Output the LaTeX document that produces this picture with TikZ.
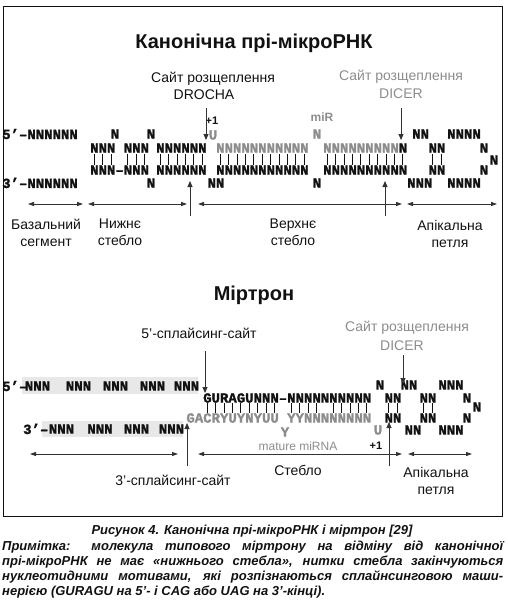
\documentclass[tikz,border=0pt]{standalone}
\usepackage{fontspec}
\setmainfont{Liberation Sans}
\newfontfamily\seqfont[BoldFeatures={FakeBold=1.6}]{Liberation Mono}
\usepackage{xcolor}
\usepackage{tikz}
\usetikzlibrary{calc,arrows.meta,positioning}
\definecolor{ink}{HTML}{111111}
\definecolor{arr}{HTML}{333333}
\definecolor{soft}{HTML}{8C8C8C}
\definecolor{band}{HTML}{E8E8E8}
\tikzset{
  seq/.style={font=\seqfont\bfseries\fontsize{14}{14}\selectfont, text=ink, inner sep=0pt},
  seqs/.style={seq, text=soft},
  lab/.style={font=\fontsize{14}{17}\selectfont, text=ink, inner sep=0pt, align=center},
  labs/.style={lab, text=soft},
  ttl/.style={font=\bfseries\fontsize{20}{22}\selectfont, text=ink, inner sep=0pt},
  plusone/.style={font=\bfseries\fontsize{11}{12}\selectfont, text=ink, inner sep=0pt},
  cutarr/.style={draw=arr, line width=0.9pt, -{Triangle[length=6pt,width=5pt]}},
  region/.style={draw=arr, line width=0.9pt, {Triangle[length=6pt,width=4pt]}-{Triangle[length=6pt,width=4pt]}},
  pairbar/.style={draw=ink, line width=0.7pt},
}
\begin{document}
\begin{tikzpicture}[x=1pt,y=-1pt]
\useasboundingbox (0,0) rectangle (508,607);
\draw[ink, line width=0.8pt] (3,6) rectangle (502,516);

% canonical pri-miRNA
\node[ttl] (ttlA) at (254,43) {Канонічна прі-мікроРНК};
\node[lab] (drsite) at (213,79) {Сайт розщеплення};
\node[lab] (drname) at (204,95) {DROCHA};
\node[labs] (dcsite) at (401,77) {Сайт розщеплення};
\node[labs] (dcname) at (401,94) {DICER};
\node[font=\bfseries\fontsize{12}{12}\selectfont, text=soft, inner sep=0pt] (mir) at (322,117) {miR};
\node[plusone] (p1a) at (212,121) {+1};

\node[seq, anchor=west] (c5) at (2,134) {5’–NNNNNN};
\node[seq] (c1a) at (115,134) {N};
\node[seq] (c1b) at (151,134) {N};
\node[seqs] (cU) at (213,135) {U};
\node[seqs] (c1c) at (317,134) {N};
\node[seq, anchor=west] (c1d) at (412,134) {NN};
\node[seq, anchor=west] (c1e) at (447,134) {NNNN};

\node[seq, anchor=west] (c2a) at (90,148) {NNN NNN};
\node[seq, anchor=west] (c2b) at (156,148) {NNNNNN};
\node[seqs, anchor=west] (c2c) at (216,148) {NNNNNNNNNNN};
\node[seq, anchor=west] (c2d) at (323,148) {\textcolor{soft}{NNNNNNNNN}N};
\node[seq] (c2e) at (437,148) {NN};
\node[seq] (c2f) at (484,148) {N};
\node[seq] (cm) at (494,160) {N};

\node[seq, anchor=west] (c3a) at (90,170) {NNN–NNN};
\node[seq, anchor=west] (c3b) at (156,170) {NNNNNN};
\node[seq, anchor=west] (c3c) at (216,170) {NNNNNNNNNNN};
\node[seq, anchor=west] (c3d) at (323,170) {NNNNNNNNNN};
\node[seq] (c3e) at (437,170) {NN};
\node[seq] (c3f) at (484,170) {N};

\node[seq, anchor=west] (c3) at (2,183) {3’–NNNNNN};
\node[seq] (c4a) at (151,183) {N};
\node[seq] (c4b) at (216,183) {NN};
\node[seq] (c4c) at (317,183) {N};
\node[seq, anchor=west] (c4d) at (407,183) {NNN};
\node[seq, anchor=west] (c4e) at (447,183) {NNNN};

\foreach \s/\n in {90/3, 123.6/3, 156/6, 216/11, 323/10, 428.6/2}
  \foreach \i in {1,...,\n}
    \draw[pairbar] ({\s+(\i-0.5)*8.4},154) -- ({\s+(\i-0.5)*8.4},165);

\coordinate (drt) at (206,108);
\coordinate (drh) at (206,140);
\coordinate (dct) at (401,108);
\coordinate (dch) at (401,140);
\coordinate (lst) at (190,216);
\coordinate (lsh) at (190,181);
\coordinate (ust) at (385,216);
\coordinate (ush) at (385,181);
\draw[cutarr] (drt) -- (drh);
\draw[cutarr] (dct) -- (dch);
\draw[cutarr] (lst) -- (lsh);
\draw[cutarr] (ust) -- (ush);

\coordinate (r1a) at (28,204);  \coordinate (r1b) at (83,204);
\coordinate (r2a) at (88,204);  \coordinate (r2b) at (187,204);
\coordinate (r3a) at (198,204); \coordinate (r3b) at (402,204);
\coordinate (r4a) at (407,204); \coordinate (r4b) at (497,204);
\draw[region] (r1a) -- (r1b);
\draw[region] (r2a) -- (r2b);
\draw[region] (r3a) -- (r3b);
\draw[region] (r4a) -- (r4b);

\node[lab] (basal) at (46,233) {Базальний\\сегмент};
\node[lab] (lower) at (120,232) {Нижнє\\стебло};
\node[lab] (upper) at (293,232) {Верхнє\\стебло};
\node[lab] (loopA) at (450,234) {Апікальна\\петля};

% mirtron
\node[ttl] (ttlB) at (254,295) {Міртрон};
\node[lab] (spl5) at (199,333) {5’-сплайсинг-сайт};
\node[labs] (mdsite) at (407,328) {Сайт розщеплення};
\node[labs] (mdname) at (402,346) {DICER};

\fill[band] (22,377) rectangle (198,394);
\fill[band] (42,421) rectangle (183,437);
\node[seq, anchor=west] (m5) at (2,386) {5’–};
\foreach \i/\x in {1/37.5, 2/78.5, 3/115.5, 4/152.5, 5/186.5}
  \node[seq] (m1g\i) at (\x,386) {NNN};
\node[seq] (m1a) at (380,385) {N};
\node[seq] (m1b) at (409,385) {NN};
\node[seq] (m1c) at (451,385) {NNN};

\node[seq, anchor=west] (m2a) at (203,398) {GURAGUNNN–NNNNNNNNNN};
\node[seq] (m2b) at (393,398) {NN};
\node[seq] (m2c) at (428,398) {NN};
\node[seq] (m2d) at (467,398) {N};
\node[seq] (mm) at (477,407) {N};

\node[seqs, anchor=west] (m3a) at (186.2,418) {GACRYUYNYUU YYNNNNNNNN};
\node[seq] (m3b) at (393,418) {NN};
\node[seq] (m3c) at (428,418) {NN};
\node[seq] (m3d) at (467,418) {N};

\node[seq, anchor=west] (m3) at (23,429) {3’–};
\foreach \i/\x in {1/61.5, 2/100, 3/136.5, 4/171.5}
  \node[seq] (m4g\i) at (\x,429) {NNN};
\node[seqs] (m4y) at (285,432) {Y};
\node[seqs] (m4u) at (378,430) {U};
\node[seq] (m4a) at (413,430) {NN};
\node[seq] (m4b) at (451,430) {NNN};

\foreach \i in {0,...,8,10,11,12,13,15,16,17,18,19}
  \draw[pairbar] ({203+(\i+0.5)*8.4},403) -- ({203+(\i+0.5)*8.4},413);
\foreach \x in {388.8, 397.2, 423.8, 432.2}
  \draw[pairbar] (\x,403) -- (\x,413);

\coordinate (s5t) at (205,351);
\coordinate (s5h) at (205,393);
\coordinate (mdt) at (403,355);
\coordinate (mdh) at (403,384);
\coordinate (s3t) at (187,466);
\coordinate (s3h) at (187,423);
\coordinate (p1t) at (389,466);
\coordinate (p1h) at (389,422);
\draw[cutarr] (s5t) -- (s5h);
\draw[cutarr] (mdt) -- (mdh);
\draw[cutarr] (s3t) -- (s3h);
\draw[cutarr] (p1t) -- (p1h);

\node[labs, font=\fontsize{12}{14}\selectfont] (mature) at (298,446) {mature miRNA};
\node[plusone] (p1b) at (376,446) {+1};

\coordinate (q1a) at (30,454);  \coordinate (q1b) at (178,454);
\coordinate (q2a) at (198,454); \coordinate (q2b) at (402,454);
\coordinate (q3a) at (408,454); \coordinate (q3b) at (472,454);
\draw[region] (q1a) -- (q1b);
\draw[region] (q2a) -- (q2b);
\draw[region] (q3a) -- (q3b);

\node[lab] (spl3) at (173,480) {3’-сплайсинг-сайт};
\node[lab] (stem) at (298,470) {Стебло};
\node[lab] (loopB) at (436,481) {Апікальна\\петля};

% caption
\node[font=\bfseries\itshape\fontsize{13}{15}\selectfont, text=ink, inner sep=0pt] (cap) at (252,531)
  {Рисунок 4. Канонічна прі-мікроРНК і міртрон [29]};
\node[anchor=north west, text width=501pt, align=justify, inner sep=0pt,
  font=\bfseries\itshape\fontsize{13}{15}\selectfont, text=ink] (note) at (2,539.5)
  {\hyphenpenalty=10000\exhyphenpenalty=10000\strut Примітка: молекула типового міртрону на відміну від канонічної\linebreak
   прі-мікроРНК не має «нижнього стебла», нитки стебла закінчуються\linebreak
   нуклеотидними мотивами, які розпізнаються сплайнсинговою маши-\linebreak
   нерією (GURAGU на 5’- і CAG або UAG на 3’-кінці).};
\end{tikzpicture}
\end{document}
